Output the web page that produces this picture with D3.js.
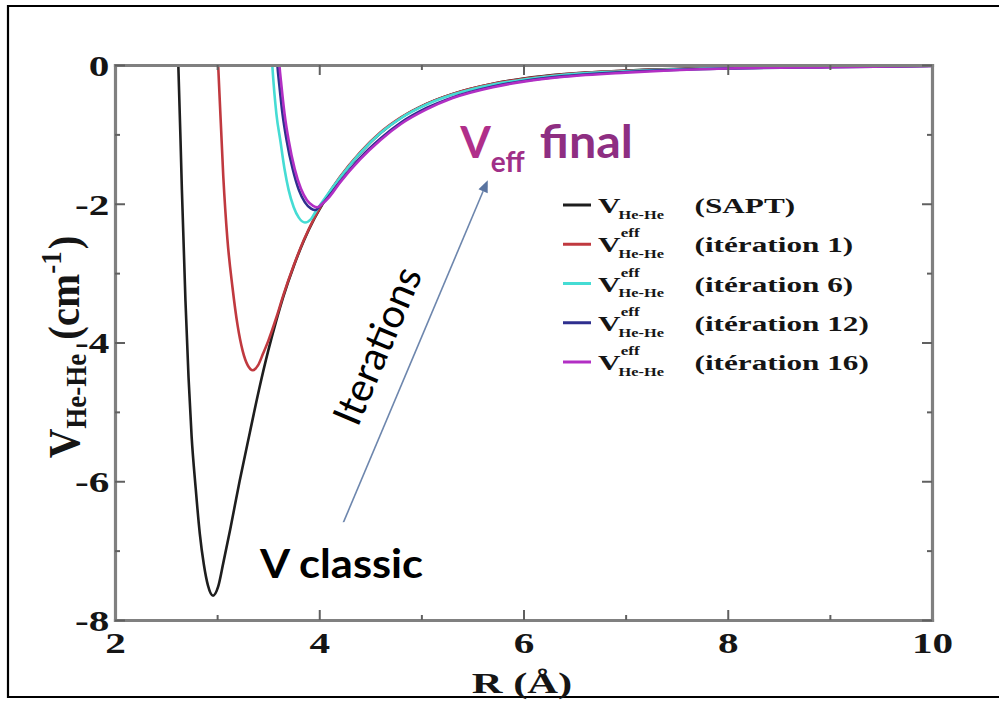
<!DOCTYPE html>
<html>
<head>
<meta charset="utf-8">
<script src="https://cdn.jsdelivr.net/npm/d3@7"></script>
<style>
  html, body { margin: 0; padding: 0; background: #fff; }
  svg { display: block; }
</style>
</head>
<body>
<svg id="chart" width="999" height="707"></svg>
<script>
// He-He pair potential, R in Å, V in cm^-1
const R_SAPT = [2.60, 2.62, 2.655, 2.69, 2.72, 2.75, 2.79, 2.83, 2.87, 2.91, 2.96, 3.01, 3.06, 3.13, 3.22, 3.32, 3.41, 3.50, 3.58, 3.65, 3.75, 3.85, 3.95, 4.05, 4.20, 4.40, 4.60, 4.80, 5.05, 5.30, 5.70, 6.00, 6.40, 7.00, 8.00, 9.00, 10.0];
const V_SAPT = [0.6, 0.0, -1.8, -3.4, -4.5, -5.35, -6.1, -6.75, -7.2, -7.5, -7.65, -7.52, -7.18, -6.68, -6.0, -5.3, -4.68, -4.12, -3.68, -3.33, -2.90, -2.53, -2.22, -1.96, -1.63, -1.27, -0.98, -0.76, -0.56, -0.42, -0.27, -0.195, -0.13, -0.08, -0.04, -0.02, -0.01];

const R_IT1 = [2.99, 3.01, 3.06, 3.10, 3.15, 3.20, 3.25, 3.30, 3.35, 3.40, 3.45, 3.50, 3.58, 3.65, 3.75, 3.85, 3.95, 4.05, 4.20, 4.40, 4.60, 4.80, 5.05, 5.30, 5.70, 6.00, 6.40, 7.00, 8.00, 9.00, 10.0];
const V_IT1 = [0.5, 0.0, -1.6, -2.5, -3.2, -3.75, -4.12, -4.33, -4.40, -4.33, -4.16, -3.98, -3.64, -3.31, -2.89, -2.52, -2.21, -1.95, -1.62, -1.26, -0.97, -0.755, -0.56, -0.42, -0.27, -0.20, -0.135, -0.085, -0.04, -0.02, -0.01];

const R_IT6 = [3.52, 3.54, 3.58, 3.62, 3.66, 3.70, 3.75, 3.80, 3.86, 3.92, 3.97, 4.05, 4.20, 4.40, 4.60, 4.80, 5.05, 5.30, 5.70, 6.00, 6.40, 7.00, 8.00, 9.00, 10.0];
const V_IT6 = [0.5, 0.0, -0.7, -1.1, -1.5, -1.8, -2.05, -2.2, -2.27, -2.22, -2.10, -1.93, -1.63, -1.27, -0.98, -0.765, -0.57, -0.43, -0.28, -0.21, -0.14, -0.09, -0.045, -0.02, -0.01];

const R_IT12 = [3.57, 3.59, 3.61, 3.64, 3.68, 3.74, 3.80, 3.86, 3.92, 3.96, 4.01, 4.10, 4.20, 4.40, 4.60, 4.80, 5.05, 5.30, 5.70, 6.00, 6.40, 7.00, 8.00, 9.00, 10.0];
const V_IT12 = [0.5, 0.0, -0.3, -0.7, -1.08, -1.5, -1.8, -1.98, -2.07, -2.09, -2.03, -1.88, -1.69, -1.34, -1.06, -0.83, -0.62, -0.47, -0.31, -0.23, -0.16, -0.10, -0.05, -0.03, -0.015];

const R_IT16 = [3.59, 3.61, 3.63, 3.66, 3.70, 3.76, 3.82, 3.88, 3.94, 3.98, 4.03, 4.10, 4.20, 4.40, 4.60, 4.80, 5.05, 5.30, 5.70, 6.00, 6.40, 7.00, 8.00, 9.00, 10.0];
const V_IT16 = [0.5, 0.0, -0.3, -0.7, -1.08, -1.5, -1.78, -1.95, -2.03, -2.05, -2.0, -1.90, -1.70, -1.36, -1.08, -0.85, -0.64, -0.48, -0.32, -0.24, -0.17, -0.11, -0.05, -0.03, -0.015];

const SERIES_NAMES = ["(SAPT)", "(itération 1)", "(itération 6)", "(itération 12)", "(itération 16)"];
const SERIES_COLORS = ["#1e1e1e", "#c0393f", "#45dcd4", "#2e2f8e", "#b22fc4"];

const X_MAJOR = [2, 4, 6, 8, 10];
const X_MINOR = [3, 5, 7, 9];
const Y_MAJOR = [0, -2, -4, -6, -8];
const Y_MINOR = [-1, -3, -5, -7];

const svg = d3.select("#chart");
const x = d3.scaleLinear().domain([2, 10]).range([115, 932]);
const y = d3.scaleLinear().domain([-8, 0]).range([620, 65]);

const SERIF = "'Liberation Serif', 'Times New Roman', serif";
const SANS = "Lato, 'Open Sans', sans-serif";
const STRETCH = 1.42;   // the figure's serif lettering is set wide
const fmtTick = d => String(d);   // plain hyphen for negatives

// page frame
svg.append("path")
  .attr("d", "M999,6H8V697H999")
  .attr("fill", "none").attr("stroke", "#000").attr("stroke-width", 2.2);

// clip for the curves
svg.append("clipPath").attr("id", "plotClip")
  .append("rect")
  .attr("x", x(2)).attr("y", y(0))
  .attr("width", x(10) - x(2)).attr("height", y(-8) - y(0));

// curves
const series = [
  { r: R_SAPT, v: V_SAPT },
  { r: R_IT1, v: V_IT1 },
  { r: R_IT6, v: V_IT6 },
  { r: R_IT12, v: V_IT12 },
  { r: R_IT16, v: V_IT16 }
].map((s, i) => ({ name: SERIES_NAMES[i], color: SERIES_COLORS[i], pts: s.r.map((r, j) => [r, s.v[j]]) }));

const line = d3.line().x(d => x(d[0])).y(d => y(d[1])).curve(d3.curveMonotoneX);

svg.append("g").attr("clip-path", "url(#plotClip)")
  .selectAll("path").data(series).join("path")
  .attr("d", d => line(d.pts))
  .attr("fill", "none")
  .attr("stroke", d => d.color)
  .attr("stroke-width", 2.6)
  .attr("stroke-linejoin", "round");

// axes: ticks on all four sides, pointing inward
const AX = "#808080";
function styleAxis(g, keepDomain) {
  g.selectAll(".tick line").attr("stroke", "#606060").attr("stroke-width", 2);
  if (keepDomain) g.select(".domain").attr("stroke", AX).attr("stroke-width", 3.2).attr("stroke-linecap", "square");
  else g.select(".domain").remove();
}
const axBottom = svg.append("g").attr("transform", `translate(0,${y(-8)})`)
  .call(d3.axisBottom(x).tickValues(X_MAJOR).tickSize(-10).tickSizeOuter(0).tickPadding(12).tickFormat(fmtTick));
styleAxis(axBottom, true);
svg.append("g").attr("transform", `translate(0,${y(-8)})`)
  .call(d3.axisBottom(x).tickValues(X_MINOR).tickSize(-5).tickFormat(""))
  .call(g => styleAxis(g, false));
const axTop = svg.append("g").attr("transform", `translate(0,${y(0)})`)
  .call(d3.axisTop(x).tickValues(X_MAJOR).tickSize(-10).tickSizeOuter(0).tickFormat(""));
styleAxis(axTop, true);
svg.append("g").attr("transform", `translate(0,${y(0)})`)
  .call(d3.axisTop(x).tickValues(X_MINOR).tickSize(-5).tickFormat(""))
  .call(g => styleAxis(g, false));

const axLeft = svg.append("g").attr("transform", `translate(${x(2)},0)`)
  .call(d3.axisLeft(y).tickValues(Y_MAJOR).tickSize(-10).tickSizeOuter(0).tickPadding(4).tickFormat(fmtTick));
styleAxis(axLeft, true);
svg.append("g").attr("transform", `translate(${x(2)},0)`)
  .call(d3.axisLeft(y).tickValues(Y_MINOR).tickSize(-5).tickFormat(""))
  .call(g => styleAxis(g, false));
const axRight = svg.append("g").attr("transform", `translate(${x(10)},0)`)
  .call(d3.axisRight(y).tickValues(Y_MAJOR).tickSize(-10).tickSizeOuter(0).tickFormat(""));
styleAxis(axRight, true);
svg.append("g").attr("transform", `translate(${x(10)},0)`)
  .call(d3.axisRight(y).tickValues(Y_MINOR).tickSize(-5).tickFormat(""))
  .call(g => styleAxis(g, false));

[axBottom, axLeft].forEach(g => g.selectAll(".tick text")
  .attr("font-family", SERIF).attr("font-weight", "bold").attr("font-size", 29)
  .attr("fill", "#151515")
  .attr("transform", `scale(${STRETCH},1)`));
axLeft.selectAll(".tick text").attr("dy", "0.36em");

// axis titles
svg.append("text")
  .attr("transform", `translate(522,693) scale(${STRETCH},1)`)
  .attr("text-anchor", "middle")
  .attr("font-family", SERIF).attr("font-weight", "bold").attr("font-size", 30).attr("fill", "#151515")
  .text("R (Å)");

const yt = svg.append("text")
  .attr("transform", `translate(79,347) rotate(-90) scale(1,1.1)`)
  .attr("text-anchor", "middle")
  .attr("font-family", SERIF).attr("font-weight", "bold").attr("font-size", 41).attr("fill", "#151515");
yt.append("tspan").text("V");
yt.append("tspan").attr("font-size", 27).attr("dy", 6).text("He-He");
yt.append("tspan").attr("dy", -6).attr("dx", 14).text("(cm");
yt.append("tspan").attr("font-size", 27).attr("dy", -16).text("-1");
yt.append("tspan").attr("dy", 16).attr("dx", 2).text(")");

// legend
const legendY = d3.scalePoint().domain(SERIES_NAMES).range([205, 362]);
const legend = svg.append("g");
series.forEach((s, i) => {
  const ry = legendY(s.name);
  legend.append("line")
    .attr("x1", 563).attr("x2", 591).attr("y1", ry).attr("y2", ry)
    .attr("stroke", s.color).attr("stroke-width", 3);
  const g = legend.append("g")
    .attr("transform", `translate(598,${ry}) scale(${STRETCH},1)`)
    .attr("font-family", SERIF).attr("font-weight", "bold").attr("fill", "#151515");
  g.append("text").attr("x", 0).attr("y", 8).attr("font-size", 22).text("V");
  if (i > 0) g.append("text").attr("x", 16).attr("y", -7).attr("font-size", 12).text("eff");
  g.append("text").attr("x", 14.5).attr("y", 14).attr("font-size", 11.5).text("He-He");
  g.append("text").attr("x", 68).attr("y", 8).attr("font-size", 22).text(s.name);
});

// annotations: arrow of successive iterations
const tail = [4.12, -7.0], tip = [5.65, -1.66];
const ax0 = x(tail[0]), ay0 = y(tail[1]), ax1 = x(tip[0]), ay1 = y(tip[1]);
const ang = Math.atan2(ay1 - ay0, ax1 - ax0);
const headLen = 12, headW = 5;
const bx = ax1 - headLen * Math.cos(ang), by = ay1 - headLen * Math.sin(ang);
svg.append("line")
  .attr("x1", ax0).attr("y1", ay0).attr("x2", bx).attr("y2", by)
  .attr("stroke", "#6d86ad").attr("stroke-width", 1.6);
svg.append("path")
  .attr("d", `M${ax1},${ay1}L${bx - headW * Math.sin(ang)},${by + headW * Math.cos(ang)}L${bx + headW * Math.sin(ang)},${by - headW * Math.cos(ang)}Z`)
  .attr("fill", "#5a74a0");

svg.append("text")
  .attr("transform", `translate(${x(4.56)},${y(-4.04)}) rotate(${ang * 180 / Math.PI})`)
  .attr("text-anchor", "middle").attr("dominant-baseline", "central")
  .attr("font-family", SANS).attr("font-size", 40).attr("fill", "#000")
  .text("Iterations");

// label box for the classical potential
svg.append("rect")
  .attr("x", x(3.225)).attr("y", y(-6.59))
  .attr("width", x(5.235) - x(3.225)).attr("height", y(-7.77) - y(-6.59))
  .attr("fill", "#fff");
svg.append("text")
  .attr("x", x(3.42)).attr("y", y(-7.39))
  .attr("font-family", SANS).attr("font-weight", "bold").attr("font-size", 40)
  .attr("textLength", 163).attr("lengthAdjust", "spacingAndGlyphs")
  .attr("fill", "#000").text("V classic");

// label of the converged effective potential
const vf = svg.append("text")
  .attr("x", x(5.38)).attr("y", y(-1.34))
  .attr("font-family", SANS).attr("font-weight", "bold").attr("font-size", 44);
vf.append("tspan").attr("fill", "#b02f8a").text("V");
vf.append("tspan").attr("fill", "#a02f88").attr("font-size", 28).attr("dy", 14).text("eff");
svg.append("text")
  .attr("x", x(6.16)).attr("y", y(-1.34))
  .attr("font-family", SANS).attr("font-weight", "bold").attr("font-size", 45)
  .attr("textLength", 93).attr("lengthAdjust", "spacingAndGlyphs")
  .attr("fill", "#8e2e82").text("final");
</script>
</body>
</html>
